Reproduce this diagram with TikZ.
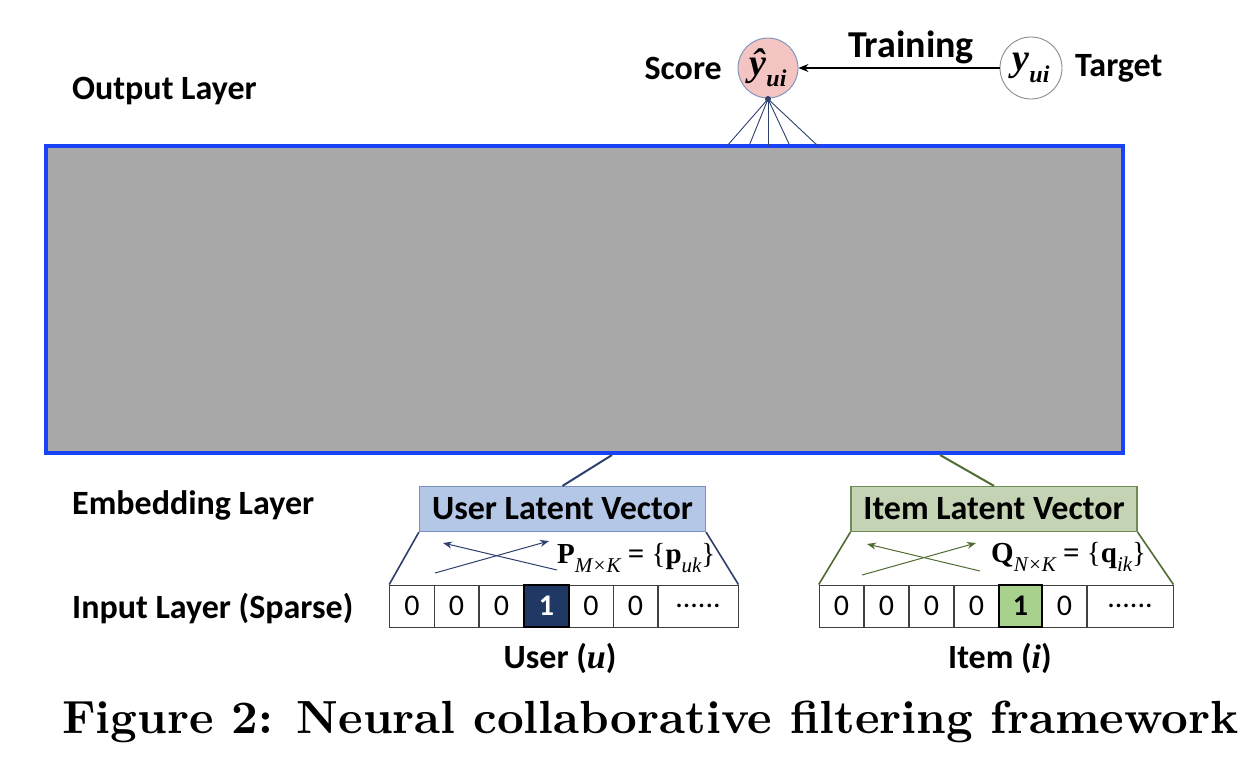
\documentclass[tikz,border=0pt]{standalone}
\usepackage{fontspec}
\usepackage{graphicx}
\newfontfamily\calib{Carlito}
\newfontfamily\tms{Liberation Serif}
\usetikzlibrary{arrows.meta}
\definecolor{netblue}{RGB}{25,65,245}
\definecolor{netgray}{RGB}{168,168,168}
\definecolor{scorepink}{RGB}{244,196,194}
\definecolor{navy}{RGB}{46,64,110}
\definecolor{ubox}{RGB}{180,199,231}
\definecolor{uborder}{RGB}{120,145,190}
\definecolor{ibox}{RGB}{197,211,181}
\definecolor{iborder}{RGB}{110,140,85}
\definecolor{dgreen}{RGB}{80,108,50}
\definecolor{onenavy}{RGB}{32,56,100}
\definecolor{onegreen}{RGB}{169,209,142}
\tikzset{
  lbl/.style={font=\calib\bfseries\fontsize{34}{36}\selectfont, inner sep=0pt},
  cellbox/.style={draw=black!75, line width=0.9pt, minimum height=42pt, minimum width=44.7pt, inner sep=0pt, font=\calib\fontsize{30}{32}\selectfont},
  fanline/.style={draw=navy, line width=0.9pt},
  vecbox/.style={minimum width=286pt, minimum height=45pt, inner sep=0pt, line width=1.2pt, font=\calib\bfseries\fontsize{34}{36}\selectfont},
  mathlbl/.style={inner sep=0pt, font=\tms\bfseries\fontsize{29}{32}\selectfont},
}
\newcommand{\subsc}[1]{\raisebox{-0.3em}{\fontsize{21}{23}\selectfont #1}}
\newcommand{\subscb}[1]{\raisebox{-0.3em}{\fontsize{24}{26}\selectfont #1}}
\begin{document}
\begin{tikzpicture}[x=1pt,y=-1pt]
\useasboundingbox (0,0) rectangle (1256,766);
\fill[white] (0,0) rectangle (1256,766);

% main network box
\node[draw=netblue, fill=netgray, line width=4.5pt, minimum width=1077pt, minimum height=307pt, inner sep=0pt] (net) at (584.5,299.5) {};

% output circles
\node[circle, draw=uborder, fill=scorepink, line width=0.9pt, minimum size=60pt, inner sep=0pt] (score) at (768,68)
  {\tms\bfseries\itshape\fontsize{38}{40}\selectfont ŷ\subscb{ui}};
\node[circle, draw=black!45, fill=white, line width=0.9pt, minimum size=62pt, inner sep=0pt] (target) at (1031,68)
  {\tms\bfseries\itshape\fontsize{38}{40}\selectfont y\subscb{ui}};
\node[lbl, anchor=east] (scorelbl) at (722,68) {Score};
\node[lbl, anchor=west] (targetlbl) at (1075,68) {Target};
\draw[-{Stealth[length=10pt,width=8pt]}, line width=1.1pt] (target) -- (score);
\node[font=\calib\bfseries\fontsize{38}{40}\selectfont, inner sep=0pt] (train) at (911,47) {Training};

% fan lines from score
\coordinate (apex) at (768,99);
\foreach \i/\xx in {1/727,2/749,3/768,4/790,5/818}{
  \coordinate (f\i) at (\xx,146);
  \draw[fanline] (apex) -- (f\i);
}
\fill[navy] (apex) circle (3pt);

% layer labels
\node[lbl, anchor=west] (outl) at (72,91) {Output Layer};
\node[lbl, anchor=west] (embl) at (72,505) {Embedding Layer};
\node[lbl, anchor=west] (inl) at (72,609) {Input Layer (Sparse)};

% latent vectors
\node[vecbox, draw=uborder, fill=ubox] (ulv) at (562.5,509) {User Latent Vector};
\node[vecbox, draw=iborder, fill=ibox] (ilv) at (994,509) {Item Latent Vector};
\coordinate (nu) at (612,455);
\coordinate (ni) at (940,455);
\draw[navy, line width=2pt] (nu) -- (ulv.north);
\draw[dgreen, line width=2pt] (ni) -- (ilv.north);

% user input cells
\foreach \i/\cx/\t in {1/412/0,2/456.5/0,3/501.5/0,5/591/0,6/635.5/0}{
  \node[cellbox] (u\i) at (\cx,606) {\t};
}
\node[cellbox, fill=onenavy, draw=black, line width=1.5pt, text=white, font=\calib\bfseries\fontsize{30}{32}\selectfont] (u4) at (546.5,606) {1};
\node[cellbox, minimum width=80pt] (u7) at (698,606) {......};

% item input cells
\foreach \i/\cx/\t in {1/841.5/0,2/886.5/0,3/931.5/0,4/976.5/0,6/1064.5/0}{
  \node[cellbox] (i\i) at (\cx,606) {\t};
}
\node[cellbox, fill=onegreen, draw=black, line width=1.5pt, font=\calib\bfseries\fontsize{30}{32}\selectfont, minimum width=43pt] (i5) at (1020.5,606) {1};
\node[cellbox, minimum width=86pt] (i7) at (1130,606) {......};

% trapezoid lines
\draw[navy, line width=1.6pt] (ulv.south west) -- (u1.north west);
\draw[navy, line width=1.6pt] (ulv.south east) -- (u7.north east);
\draw[dgreen, line width=1.6pt] (ilv.south west) -- (i1.north west);
\draw[dgreen, line width=1.6pt] (ilv.south east) -- (i7.north east);

% crossing arrows
\coordinate (ua1) at (435,573); \coordinate (ua2) at (549,541);
\coordinate (ub1) at (557,570); \coordinate (ub2) at (443,543);
\draw[navy, line width=1pt, -{Stealth[length=9pt,width=7pt]}] (ua1) -- (ua2);
\draw[navy, line width=1pt, -{Stealth[length=9pt,width=7pt]}] (ub1) -- (ub2);
\coordinate (ia1) at (862,575); \coordinate (ia2) at (976,543);
\coordinate (ib1) at (980,571); \coordinate (ib2) at (867,544);
\draw[dgreen, line width=1pt, -{Stealth[length=9pt,width=7pt]}] (ia1) -- (ia2);
\draw[dgreen, line width=1pt, -{Stealth[length=9pt,width=7pt]}] (ib1) -- (ib2);

% formulas
\node[mathlbl, anchor=west] (pf) at (557,558) {P\subsc{\mdseries\itshape M×K} = {\mdseries\{}p\subsc{\mdseries\itshape uk}{\mdseries\}}};
\node[mathlbl, anchor=west] (qf) at (991,557) {Q\subsc{\mdseries\itshape N×K} = {\mdseries\{}q\subsc{\mdseries\itshape ik}{\mdseries\}}};

% bottom labels
\node[lbl] (userl) at (560,658) {User ({\tms\itshape u})};
\node[lbl] (iteml) at (1000,658) {Item ({\tms\itshape i})};

% caption
\node[anchor=west, inner sep=0pt] (cap) at (62,722) {\resizebox{1176pt}{!}{\bfseries Figure 2: Neural collaborative filtering framework}};
\end{tikzpicture}
\end{document}
